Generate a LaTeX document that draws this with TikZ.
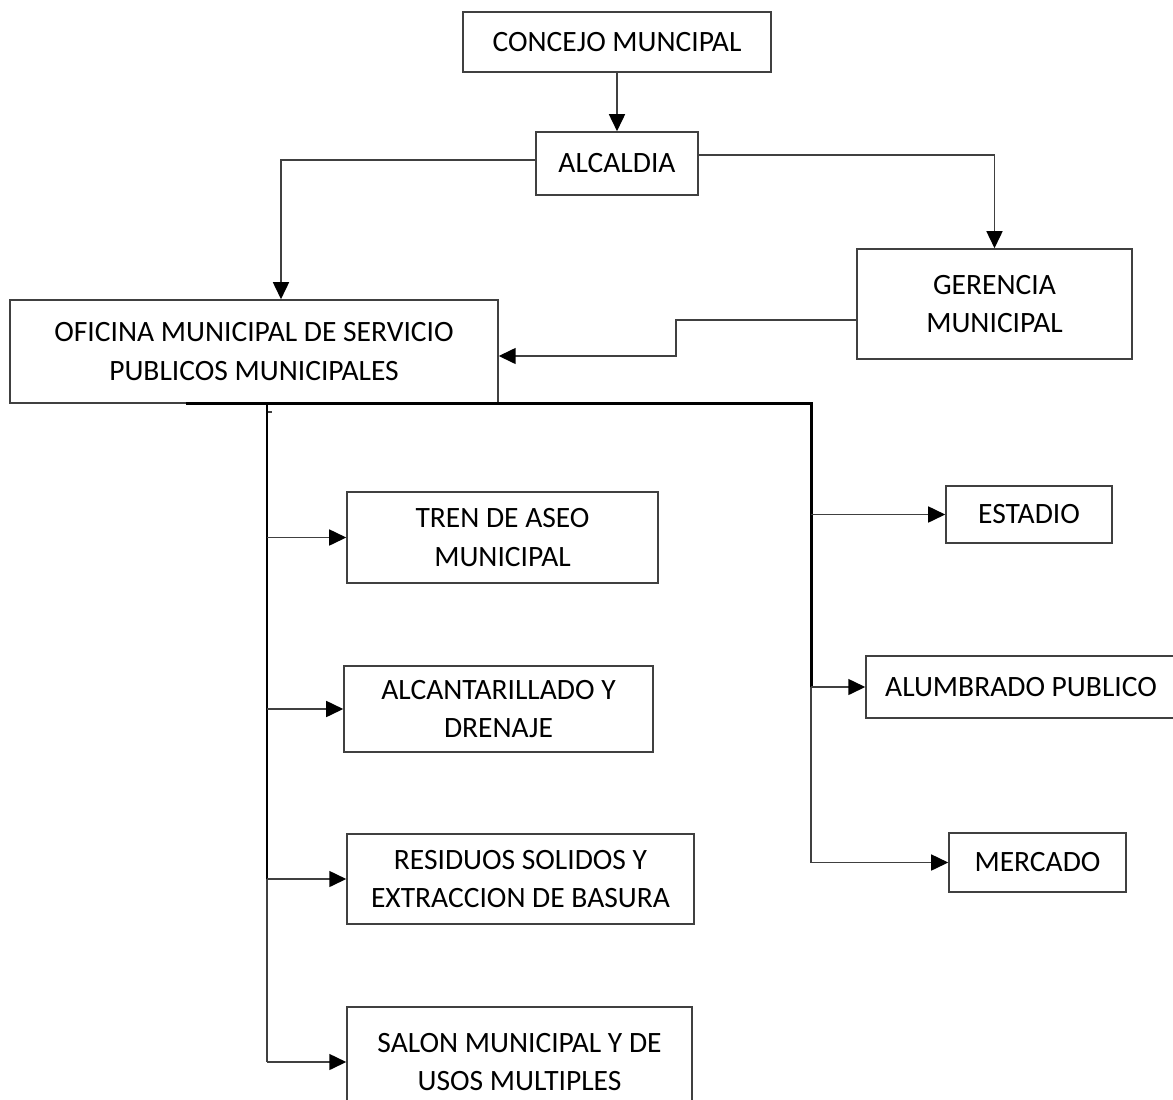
\documentclass[tikz,border=0pt]{standalone}
\usepackage{fontspec}
\setmainfont{Carlito}
\usepackage{tikz}
\usetikzlibrary{arrows.meta}
\definecolor{linegray}{HTML}{404040}

\begin{document}
\begin{tikzpicture}[x=0.02cm,y=-0.02cm,
        box/.style={draw=linegray,line width=0.9pt,rectangle,inner sep=0pt,align=center,
          font=\fontsize{16.8pt}{22pt}\selectfont},
        conn/.style={draw=linegray,line width=0.9pt,-{Triangle[length=0.34cm,width=0.32cm,color=black]}},
        thinline/.style={draw=linegray,line width=0.9pt},
        trunk/.style={draw=black,line width=1.7pt}]
        \useasboundingbox (0,0) rectangle (1173,1099);
        \node[box,minimum width=6.16cm,minimum height=1.2cm] (concejo) at (617,42) {CONCEJO MUNCIPAL};
        \node[box,minimum width=3.24cm,minimum height=1.26cm] (alcaldia) at (617,163.5) {ALCALDIA};
        \node[box,minimum width=5.5cm,minimum height=2.2cm] (gerencia) at (994.5,304) {GERENCIA\\MUNICIPAL};
        \node[box,minimum width=9.76cm,minimum height=2.06cm] (oficina) at (254,351.5) {OFICINA MUNICIPAL DE SERVICIO\\PUBLICOS MUNICIPALES};
        \node[box,minimum width=6.22cm,minimum height=1.82cm] (tren) at (502.5,537.5) {TREN DE ASEO\\MUNICIPAL};
        \node[box,minimum width=6.18cm,minimum height=1.72cm] (alcantarillado) at (498.5,709) {ALCANTARILLADO Y\\DRENAJE};
        \node[box,minimum width=6.94cm,minimum height=1.8cm] (residuos) at (520.5,879) {RESIDUOS SOLIDOS Y\\EXTRACCION DE BASURA};
        \node[box,minimum width=6.9cm,minimum height=2.2cm] (salon) at (519.5,1062) {SALON MUNICIPAL Y DE\\USOS MULTIPLES};
        \node[box,minimum width=3.32cm,minimum height=1.14cm] (estadio) at (1029,514.5) {ESTADIO};
        \node[box,minimum width=6.2cm,minimum height=1.24cm] (alumbrado) at (1021,687) {ALUMBRADO PUBLICO};
        \node[box,minimum width=3.54cm,minimum height=1.18cm] (mercado) at (1037.5,862.5) {MERCADO};
        \coordinate (ltop) at (267,403);
        \coordinate (rtop) at (811,403);
        \draw[conn] (concejo) -- (alcaldia);
        \draw[conn] ([yshift=0.07cm]alcaldia.west) -| ([xshift=0.54cm]oficina.north);
        \draw[conn] ([yshift=0.17cm]alcaldia.east) -| (gerencia.north);
        \draw[conn] ([yshift=-0.32cm]gerencia.west) -- ++(-180,0) |- ([yshift=-0.09cm]oficina.east);
        \draw[thinline] (ltop) -- (ltop |- salon.west);
        \draw[thinline] (rtop) -- (rtop |- mercado.west);
        \draw[thinline] (267,412) -- (272,412);
        \draw[trunk] (ltop) -- (ltop |- residuos.west);
        \draw[trunk] (186,403) -- (rtop) -- (rtop |- alumbrado.west);
        \foreach \name in {tren,alcantarillado,residuos,salon}{
          \draw[conn] (ltop |- \name.west) -- (\name.west);
        }
        \foreach \name in {estadio,alumbrado,mercado}{
          \draw[conn] (rtop |- \name.west) -- (\name.west);
        }
      \end{tikzpicture}
\end{document}
